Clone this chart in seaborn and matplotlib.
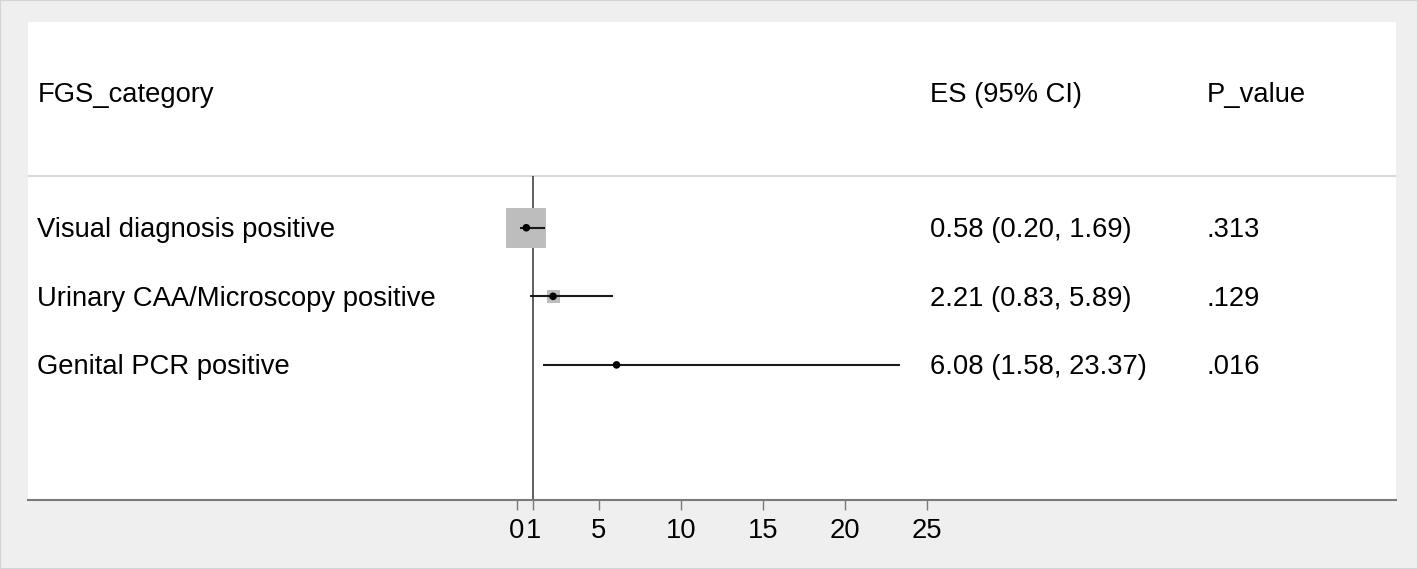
import pandas as pd
import matplotlib.pyplot as plt
import seaborn as sns
from matplotlib.patches import Rectangle

# Forest plot data
categories = ["Visual diagnosis positive", "Urinary CAA/Microscopy positive", "Genital PCR positive"]
es = [0.58, 2.21, 6.08]
ci_low = [0.20, 0.83, 1.58]
ci_high = [1.69, 5.89, 23.37]
es_labels = ["0.58 (0.20, 1.69)", "2.21 (0.83, 5.89)", "6.08 (1.58, 23.37)"]
p_labels = [".313", ".129", ".016"]
weights = [829, 88, 4]  # box area (study weight)
xticks = [0, 1, 5, 10, 15, 20, 25]

df = pd.DataFrame({"cat": categories, "es": es, "lo": ci_low, "hi": ci_high,
                   "w": weights, "row": [1, 2, 3]})

sns.set_style("white")
plt.rcParams['font.family'] = ['Liberation Sans', 'DejaVu Sans']

fig = plt.figure(figsize=(14.18, 5.69), dpi=100)
fig.patch.set_facecolor("#efefef")
fig.patches.append(Rectangle((0, 0), 1, 1, transform=fig.transFigure, fill=False,
                             edgecolor="#d4d4d4", linewidth=1.5))

ax = fig.add_axes([28 / 1418, 1 - 500 / 569, 1368 / 1418, 478 / 569])
ax.set_facecolor("white")
ax.set_xlim(-29.8, 53.6)
ax.set_ylim(4.97, -2.0)

# header separator
ax.axhline(0.25, color="#d9d9d9", lw=1.5)
# null line at 1
ax.vlines(1, 0.25, 4.97, color="#444444", lw=1.2)

# weight boxes
sns.scatterplot(data=df, x="es", y="row", size="w", sizes=(min(weights), max(weights)),
                marker="s", color="#bdbdbd", edgecolor="none", legend=False, ax=ax, zorder=2)
# confidence intervals
ax.hlines(df["row"], df["lo"], df["hi"], color="#1a1a1a", lw=1.5, zorder=3)
# point estimates
sns.scatterplot(data=df, x="es", y="row", marker="o", s=30, color="black",
                edgecolor="none", legend=False, ax=ax, zorder=4)

fs = 19.7
dy = 0.035
x_lab, x_es, x_p = -29.23, 25.17, 42.05
ax.text(x_lab, -1 + dy + 0.03, "FGS_category", fontsize=fs, va="center", color="black")
ax.text(x_es, -1 + dy + 0.03, "ES (95% CI)", fontsize=fs, va="center", color="black")
ax.text(x_p, -1 + dy + 0.03, "P_value", fontsize=fs, va="center", color="black")
for r, c, e, p in zip(df["row"], categories, es_labels, p_labels):
    ax.text(x_lab, r + dy, c, fontsize=fs, va="center", color="black")
    ax.text(x_es, r + dy, e, fontsize=fs, va="center", color="black")
    ax.text(x_p, r + dy, p, fontsize=fs, va="center", color="black")

ax.set_xticks(xticks)
ax.set_xticklabels([str(t) for t in xticks])
ax.set_yticks([])
ax.set_xlabel("")
ax.set_ylabel("")
for s in ["top", "left", "right"]:
    ax.spines[s].set_visible(False)
ax.spines["bottom"].set_color("#7a7a7a")
ax.spines["bottom"].set_linewidth(1.5)
ax.tick_params(axis="x", direction="out", length=7, width=1, color="#7a7a7a",
               labelsize=fs, labelcolor="black", pad=6, bottom=True)

fig.savefig("out.png", dpi=100, facecolor=fig.get_facecolor())
